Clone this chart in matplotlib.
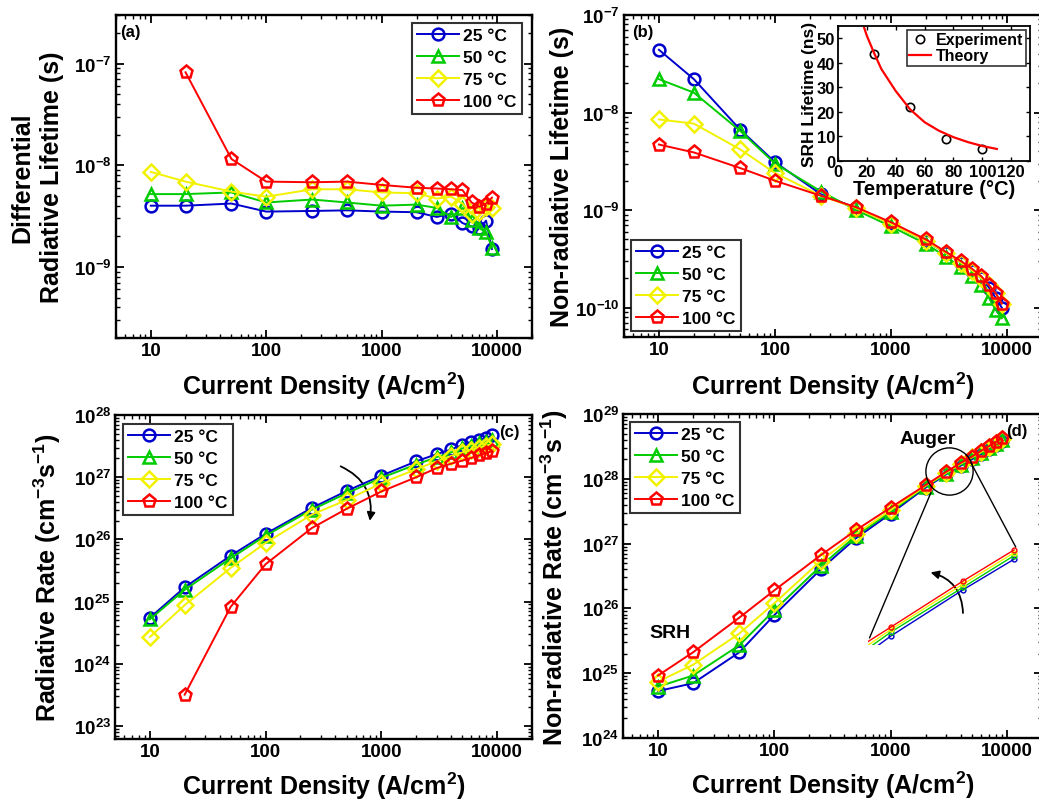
import numpy as np
import matplotlib
matplotlib.use('Agg')
import matplotlib.pyplot as plt
from matplotlib.ticker import FixedLocator, FuncFormatter, LogLocator, NullFormatter
from matplotlib.patches import FancyArrowPatch, ConnectionPatch

plt.rcParams['font.family'] = ['Liberation Sans', 'DejaVu Sans']
plt.rcParams['font.weight'] = 'bold'
plt.rcParams['axes.labelweight'] = 'bold'
plt.rcParams['mathtext.fontset'] = 'custom'
plt.rcParams['mathtext.rm'] = 'Liberation Sans:bold'
plt.rcParams['mathtext.bf'] = 'Liberation Sans:bold'
plt.rcParams['mathtext.it'] = 'Liberation Sans:bold'
plt.rcParams['mathtext.default'] = 'rm'

# ---- data ----
J = [10, 20, 50, 100, 250, 500, 1000, 2000, 3000, 4000, 5000, 6000, 7000, 8000, 9000]
J_no10 = J[1:]
temps = ['25 °C', '50 °C', '75 °C', '100 °C']
colors = ['#0000cc', '#00cc00', '#f2f200', '#ff0000']
markers = ['o', '^', 'D', 'p']
msizes = [8.5, 9, 8, 9.5]

# (a) differential radiative lifetime (s)
tau_rad_25 = [4.0e-9, 4.0e-9, 4.2e-9, 3.5e-9, 3.55e-9, 3.6e-9, 3.5e-9, 3.45e-9, 3.1e-9,
              3.35e-9, 2.7e-9, 2.5e-9, 2.4e-9, 2.85e-9, 1.5e-9]
tau_rad_50 = [5.2e-9, 5.2e-9, 5.4e-9, 4.3e-9, 4.6e-9, 4.3e-9, 4.0e-9, 4.1e-9, 3.8e-9,
              3.1e-9, 3.8e-9, 2.9e-9, 2.4e-9, 2.2e-9, 1.55e-9]
tau_rad_75 = [8.6e-9, 6.9e-9, 5.5e-9, 4.9e-9, 5.8e-9, 5.8e-9, 5.4e-9, 5.3e-9, 4.7e-9,
              4.9e-9, 4.2e-9, 3.3e-9, 3.5e-9, 3.9e-9, 3.8e-9]
tau_rad_100 = [8.2e-8, 1.15e-8, 6.9e-9, 6.8e-9, 6.9e-9, 6.4e-9, 6.0e-9, 5.9e-9,
               5.8e-9, 5.7e-9, 4.3e-9, 3.9e-9, 4.2e-9, 4.8e-9]

# (b) non-radiative lifetime (s)
tau_nr_25 = [4.4e-8, 2.2e-8, 6.7e-9, 3.1e-9, 1.45e-9, 1.05e-9, 7.3e-10, 4.8e-10, 3.6e-10,
             2.9e-10, 2.4e-10, 2.0e-10, 1.6e-10, 1.25e-10, 1.0e-10]
tau_nr_50 = [2.2e-8, 1.6e-8, 6.5e-9, 3.0e-9, 1.55e-9, 1.0e-9, 6.8e-10, 4.5e-10, 3.3e-10,
             2.6e-10, 2.1e-10, 1.7e-10, 1.25e-10, 9.5e-11, 7.8e-11]
tau_nr_75 = [8.5e-9, 7.7e-9, 4.2e-9, 2.4e-9, 1.4e-9, 1.05e-9, 7.2e-10, 4.8e-10, 3.6e-10,
             2.9e-10, 2.4e-10, 2.0e-10, 1.7e-10, 1.4e-10, 1.1e-10]
tau_nr_100 = [4.7e-9, 3.9e-9, 2.7e-9, 2.0e-9, 1.4e-9, 1.07e-9, 7.5e-10, 5.0e-10, 3.7e-10,
              3.0e-10, 2.5e-10, 2.1e-10, 1.7e-10, 1.4e-10, 1.1e-10]

# (b) inset: SRH lifetime vs temperature
T_exp = [25, 50, 75, 100]
srh_exp = [43.5, 22, 8.8, 4.8]
T_theory = [18, 20, 25, 30, 40, 50, 60, 70, 80, 90, 100, 110]
srh_theory = [54.5, 51, 44, 37.5, 28.5, 21, 15.8, 12.3, 9.7, 7.7, 6.1, 4.9]

# (c) radiative rate (cm^-3 s^-1)
R_rad_25 = [5.5e24, 1.7e25, 5.5e25, 1.23e26, 3.2e26, 6.0e26, 1.06e27, 1.8e27, 2.35e27,
            2.8e27, 3.3e27, 3.7e27, 4.0e27, 4.3e27, 4.7e27]
R_rad_50 = [5.2e24, 1.55e25, 5.0e25, 1.15e26, 3.0e26, 5.5e26, 9.8e26, 1.6e27, 2.1e27,
            2.5e27, 2.9e27, 3.2e27, 3.5e27, 3.7e27, 3.9e27]
R_rad_75 = [2.7e24, 8.8e24, 3.5e25, 8.8e25, 2.5e26, 4.3e26, 8.0e26, 1.35e27, 1.8e27,
            2.2e27, 2.5e27, 2.75e27, 3.0e27, 3.2e27, 3.4e27]
R_rad_100 = [3.2e23, 8.3e24, 4.0e25, 1.52e26, 3.1e26, 5.9e26, 1.0e27, 1.4e27,
             1.65e27, 1.85e27, 2.05e27, 2.25e27, 2.45e27, 2.6e27]

# (d) non-radiative rate (cm^-3 s^-1)
R_nr_25 = [5.3e24, 7.0e24, 2.1e25, 7.9e25, 4.0e26, 1.2e27, 2.9e27, 7.3e27, 1.17e28,
           1.6e28, 2.0e28, 2.4e28, 2.9e28, 3.3e28, 3.8e28]
R_nr_50 = [6.2e24, 9.2e24, 2.7e25, 9.4e25, 4.5e26, 1.3e27, 3.1e27, 7.6e27, 1.2e28,
           1.66e28, 2.1e28, 2.5e28, 3.0e28, 3.5e28, 4.0e28]
R_nr_75 = [7.4e24, 1.35e25, 4.1e25, 1.2e26, 5.4e26, 1.4e27, 3.3e27, 7.8e27, 1.24e28,
           1.71e28, 2.15e28, 2.6e28, 3.1e28, 3.6e28, 4.1e28]
R_nr_100 = [9.2e24, 2.1e25, 7.2e25, 1.9e26, 6.6e26, 1.6e27, 3.6e27, 8.0e27, 1.28e28,
            1.76e28, 2.2e28, 2.7e28, 3.2e28, 3.7e28, 4.2e28]

xticks = [10, 100, 1000, 10000]
xtick_labels = ['10', '100', '1000', '10000']


def decade_fmt(v, pos):
    e = int(round(np.log10(v)))
    return r'$10^{%d}$' % e


def style_log_axes(ax, xlim, ylim, xlab_y):
    ax.set_xscale('log')
    ax.set_yscale('log')
    ax.set_xlim(*xlim)
    ax.set_ylim(*ylim)
    ax.xaxis.set_major_locator(FixedLocator(xticks))
    ax.set_xticklabels(xtick_labels)
    ax.xaxis.set_minor_locator(LogLocator(base=10, subs=np.arange(2, 10), numticks=20))
    ax.xaxis.set_minor_formatter(NullFormatter())
    ax.yaxis.set_major_locator(LogLocator(base=10, numticks=20))
    ax.yaxis.set_major_formatter(FuncFormatter(decade_fmt))
    ax.yaxis.set_minor_locator(LogLocator(base=10, subs=np.arange(2, 10), numticks=20))
    ax.yaxis.set_minor_formatter(NullFormatter())
    ax.tick_params(which='both', direction='in', top=True, right=True, labelsize=13.5)
    ax.tick_params(which='major', length=5.5, width=1.3, pad=3)
    ax.tick_params(which='minor', length=2.8, width=1)
    for s in ax.spines.values():
        s.set_linewidth(1.7)
    ax.set_xlabel('Current Density (A/cm$^{2}$)', fontsize=18, va='center')
    ax.xaxis.set_label_coords(0.5, xlab_y)


def set_ylab(ax, text, x):
    ax.set_ylabel(text, fontsize=18, va='center', ha='center', linespacing=1.3)
    ax.yaxis.set_label_coords(x, 0.5)


def plot_series(ax, xs_list, ys_list):
    for xs, ys, c, m, ms, lab in zip(xs_list, ys_list, colors, markers, msizes, temps):
        ax.plot(xs, ys, color=c, marker=m, ms=ms, mfc='none', mec=c, mew=1.8,
                lw=1.4, label=lab)


def add_legend(ax, loc, anchor):
    leg = ax.legend(loc=loc, bbox_to_anchor=anchor, fontsize=12.5, frameon=True,
                    fancybox=False, handlelength=2.4, handletextpad=0.25,
                    labelspacing=0.38, borderpad=0.3, borderaxespad=0.0)
    leg.get_frame().set_edgecolor('black')
    leg.get_frame().set_linewidth(1.5)
    return leg


fig = plt.figure(figsize=(10.39, 8.03), dpi=100)
W, H = 1039.0, 803.0

ax_a = fig.add_axes([116 / W, 1 - 339 / H, 416 / W, 323 / H])
ax_b = fig.add_axes([624 / W, 1 - 338 / H, 418 / W, 322 / H])
ax_c = fig.add_axes([115 / W, 1 - 740 / H, 417 / W, 324 / H])
ax_d = fig.add_axes([623 / W, 1 - 739 / H, 419 / W, 324 / H])

# (a)
plot_series(ax_a, [J, J, J, J_no10], [tau_rad_25, tau_rad_50, tau_rad_75, tau_rad_100])
style_log_axes(ax_a, (5.0, 20000), (2.0e-10, 3.0e-7), -0.146)
set_ylab(ax_a, 'Differential\nRadiative Lifetime (s)', -0.19)
add_legend(ax_a, 'upper right', (0.976, 0.975))
ax_a.text(0.01, 0.948, '(a)', transform=ax_a.transAxes, fontsize=12, va='center', ha='left')

# (b)
plot_series(ax_b, [J, J, J, J], [tau_nr_25, tau_nr_50, tau_nr_75, tau_nr_100])
style_log_axes(ax_b, (5.0, 20000), (5.0e-11, 1.0e-7), -0.149)
set_ylab(ax_b, 'Non-radiative Lifetime (s)', -0.148)
add_legend(ax_b, 'lower left', (0.017, 0.019))
ax_b.text(0.02, 0.948, '(b)', transform=ax_b.transAxes, fontsize=12, va='center', ha='left')

# (b) inset
ax_bi = fig.add_axes([838 / W, 1 - 162 / H, 192 / W, 135 / H])
ax_bi.plot(T_exp, srh_exp, 'o', ms=6, mfc='none', mec='black', mew=1.2, label='Experiment')
ax_bi.plot(T_theory, srh_theory, '-', color='#ff0000', lw=1.6, label='Theory')
ax_bi.set_xlim(0, 133)
ax_bi.set_ylim(0, 55)
ax_bi.set_xticks([0, 20, 40, 60, 80, 100, 120])
ax_bi.set_yticks([0, 10, 20, 30, 40, 50])
ax_bi.tick_params(which='both', direction='in', top=True, right=True, labelsize=12,
                  length=3, width=1)
ax_bi.tick_params(axis='x', pad=2.5)
ax_bi.tick_params(axis='y', pad=2)
for s in ax_bi.spines.values():
    s.set_linewidth(1.3)
ax_bi.set_xlabel('Temperature (°C)', fontsize=14.5, labelpad=0)
ax_bi.set_ylabel('SRH Lifetime (ns)', fontsize=12.5, labelpad=0)
lg = ax_bi.legend(loc='upper right', fontsize=11.5, frameon=True, fancybox=False,
                  handlelength=1.4, handletextpad=0.3, labelspacing=0.05,
                  borderpad=0.15, borderaxespad=0.25)
lg.get_frame().set_edgecolor('black')
lg.get_frame().set_linewidth(1.2)

# (c)
plot_series(ax_c, [J, J, J, J_no10], [R_rad_25, R_rad_50, R_rad_75, R_rad_100])
style_log_axes(ax_c, (5.0, 20000), (6.2e22, 1.0e28), -0.142)
set_ylab(ax_c, 'Radiative Rate (cm$^{-3}$s$^{-1}$)', -0.162)
add_legend(ax_c, 'upper left', (0.019, 0.972))
ax_c.text(0.945, 0.948, '(c)', transform=ax_c.transAxes, fontsize=12, va='center', ha='center')
arr_c = FancyArrowPatch(posA=(423, 1.56e27), posB=(787, 1.8e26), transform=ax_c.transData,
                        connectionstyle='arc3,rad=-0.4', arrowstyle='-|>',
                        mutation_scale=12, lw=1.3, color='black')
ax_c.add_patch(arr_c)

# (d)
plot_series(ax_d, [J, J, J, J], [R_nr_25, R_nr_50, R_nr_75, R_nr_100])
style_log_axes(ax_d, (5.0, 20000), (1.0e24, 1.0e29), -0.142)
set_ylab(ax_d, 'Non-radiative Rate (cm$^{-3}$s$^{-1}$)', -0.163)
add_legend(ax_d, 'upper left', (0.017, 0.975))
ax_d.text(0.94, 0.948, '(d)', transform=ax_d.transAxes, fontsize=12, va='center', ha='center')
ax_d.text(0.728, 0.923, 'Auger', transform=ax_d.transAxes, fontsize=14, va='center', ha='center')
ax_d.text(0.112, 0.327, 'SRH', transform=ax_d.transAxes, fontsize=14, va='center', ha='center')
ax_d.plot([3170], [1.33e28], 'o', ms=34, mfc='none', mec='black', mew=1.0)

# (d) zoomed inset
ax_di = fig.add_axes([868 / W, 1 - 646 / H, 150 / W, 101 / H])
ax_di.set_xscale('log')
ax_di.set_yscale('log')
for ys, c in zip([R_nr_25, R_nr_50, R_nr_75, R_nr_100], colors):
    ax_di.plot(J[6:10], ys[6:10], color=c, marker='o', ms=3.5, mfc='none', mec=c,
               mew=1.0, lw=1.0)
ax_di.set_xlim(1756, 4090)
ax_di.set_ylim(6.65e27, 1.87e28)
ax_di.axis('off')
ax_di.patch.set_alpha(0)

for xyA, xyB in [((2218, 6.1e27), (0.01, 0.07)), ((4910, 1.76e28), (0.985, 0.97))]:
    cp = ConnectionPatch(xyA=xyA, coordsA=ax_d.transData, xyB=xyB, coordsB=ax_di.transAxes,
                         color='black', lw=1.0)
    fig.add_artist(cp)

arr_d = FancyArrowPatch(posA=(4190, 7.7e25), posB=(2090, 3.67e26), transform=ax_d.transData,
                        connectionstyle='arc3,rad=0.4', arrowstyle='-|>',
                        mutation_scale=12, lw=1.3, color='black')
ax_d.add_patch(arr_d)

fig.savefig('out.png', dpi=100)
